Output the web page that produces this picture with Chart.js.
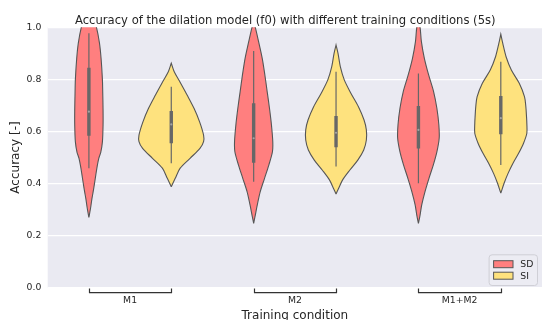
<!DOCTYPE html>
<html>
<head>
<meta charset="utf-8">
<script src="https://cdn.jsdelivr.net/npm/chart.js@4.4.1/dist/chart.umd.min.js"></script>
<style>
  html, body { margin: 0; padding: 0; background: #ffffff; overflow: hidden; }
  #wrap { width: 542px; height: 320px; overflow: hidden; }
</style>
</head>
<body>
<div id="wrap"><canvas id="chart" width="546" height="323"></canvas></div>
<script>
// Categories and series
const groups = ['M1', 'M2', 'M1+M2'];
const seriesNames = ['SD', 'SI'];

// Violin outlines: accuracy levels and relative density (1 = widest allowed)
const sdLevels = [
    [0.27, 0.305, 0.34, 0.369, 0.40, 0.433, 0.465, 0.497, 0.52, 0.56, 0.625, 0.68, 0.75, 0.80, 0.88, 0.94, 1.0, 1.04, 1.07],
    [0.247, 0.279, 0.318, 0.369, 0.42, 0.471, 0.522, 0.561, 0.625, 0.689, 0.753, 0.817, 0.881, 0.945, 1.0, 1.02],
    [0.247, 0.279, 0.318, 0.369, 0.42, 0.471, 0.522, 0.574, 0.625, 0.689, 0.753, 0.817, 0.881, 0.945, 1.0, 1.02]
];
const sdDensity = [
    [0, 0.05, 0.09, 0.13, 0.17, 0.21, 0.25, 0.30, 0.36, 0.41, 0.43, 0.43, 0.42, 0.41, 0.37, 0.32, 0.23, 0.12, 0],
    [0, 0.05, 0.11, 0.20, 0.33, 0.46, 0.57, 0.58, 0.54, 0.48, 0.41, 0.34, 0.26, 0.15, 0.05, 0],
    [0, 0.05, 0.10, 0.20, 0.32, 0.45, 0.56, 0.63, 0.62, 0.56, 0.46, 0.31, 0.18, 0.09, 0.05, 0]
];
const siLevels = [
    [0.388, 0.42, 0.459, 0.497, 0.535, 0.561, 0.586, 0.637, 0.689, 0.74, 0.791, 0.829, 0.862],
    [0.36, 0.382, 0.414, 0.452, 0.49, 0.529, 0.567, 0.606, 0.644, 0.695, 0.747, 0.798, 0.849, 0.9, 0.932],
    [0.363, 0.401, 0.439, 0.478, 0.516, 0.555, 0.593, 0.631, 0.657, 0.695, 0.733, 0.785, 0.836, 0.887, 0.938, 0.974]
];
const siDensity = [
    [0, 0.12, 0.27, 0.57, 0.87, 0.98, 0.98, 0.86, 0.69, 0.48, 0.26, 0.09, 0],
    [0, 0.08, 0.20, 0.42, 0.66, 0.84, 0.92, 0.92, 0.85, 0.68, 0.45, 0.25, 0.13, 0.06, 0],
    [0, 0.10, 0.22, 0.37, 0.54, 0.69, 0.79, 0.79, 0.78, 0.76, 0.72, 0.56, 0.32, 0.16, 0.06, 0]
];

// Inner boxes: [whisker low, q1, median, q3, whisker high]
const sdBoxStats = [
    [0.459, 0.584, 0.676, 0.845, 0.977],
    [0.407, 0.480, 0.574, 0.708, 0.909],
    [0.401, 0.535, 0.606, 0.698, 0.823]
];
const siBoxStats = [
    [0.478, 0.555, 0.627, 0.679, 0.772],
    [0.465, 0.539, 0.595, 0.659, 0.829],
    [0.471, 0.589, 0.651, 0.736, 0.868]
];

const yTicks = [0, 0.2, 0.4, 0.6, 0.8, 1.0];

const colors = ['#ff7f7f', '#fee27e'];
const outline = '#565656';
const innerColor = '#676767';
const dodge = 0.25;      // offset of each hue from group centre
const halfWidth = 0.2;   // max half width of a violin, in category units
const fontFamily = '"DejaVu Sans", sans-serif';
const textColor = '#262626';

function violinPoints(center, levels, density) {
    const right = levels.map((y, k) => ({ x: center + density[k] * halfWidth, y: y }));
    const left = levels.map((y, k) => ({ x: center - density[k] * halfWidth, y: y })).reverse();
    return right.concat(left);
}

const datasets = [];
const allLevels = [sdLevels, siLevels];
const allDensity = [sdDensity, siDensity];
const allStats = [sdBoxStats, siBoxStats];

seriesNames.forEach(function (name, s) {
    groups.forEach(function (g, i) {
        const center = i + (s === 0 ? -dodge : dodge);
        datasets.push({
            type: 'line',
            label: name,
            data: violinPoints(center, allLevels[s][i], allDensity[s][i]),
            backgroundColor: colors[s],
            borderColor: outline,
            borderWidth: 1.1,
            pointRadius: 0,
            tension: 0.3,
            fill: 'shape',
            order: 3
        });
        const st = allStats[s][i];
        // whisker
        datasets.push({
            type: 'line',
            label: name + ' whisker',
            data: [{ x: center, y: st[0] }, { x: center, y: st[4] }],
            borderColor: innerColor,
            borderWidth: 1.2,
            pointRadius: 0,
            fill: false,
            order: 2
        });
        // box
        datasets.push({
            type: 'line',
            label: name + ' box',
            data: [{ x: center, y: st[1] }, { x: center, y: st[3] }],
            borderColor: innerColor,
            borderWidth: 3.4,
            borderCapStyle: 'butt',
            pointRadius: 0,
            fill: false,
            order: 1
        });
        // median
        datasets.push({
            type: 'scatter',
            label: name + ' median',
            data: [{ x: center, y: st[2] }],
            backgroundColor: '#a4a4a4',
            borderWidth: 0,
            pointRadius: 1.1,
            order: 0
        });
    });
});

// Grey plot background
const backgroundPlugin = {
    id: 'plotBackground',
    beforeDraw(chart) {
        const { ctx, chartArea } = chart;
        ctx.save();
        ctx.fillStyle = '#eaeaf2';
        ctx.fillRect(chartArea.left, chartArea.top, chartArea.right - chartArea.left, chartArea.bottom - chartArea.top);
        ctx.restore();
    }
};

// Title, group brackets and legend
const decorPlugin = {
    id: 'decor',
    afterDraw(chart) {
        const { ctx, chartArea } = chart;
        const xs = chart.scales.x;
        ctx.save();

        // title
        ctx.fillStyle = textColor;
        ctx.font = '11.6px ' + fontFamily;
        ctx.textAlign = 'center';
        ctx.textBaseline = 'alphabetic';
        ctx.fillText('Accuracy of the dilation model (f0) with different training conditions (5s)', 285.3, 24);

        // brackets under each group
        ctx.strokeStyle = '#333333';
        ctx.lineWidth = 1.2;
        groups.forEach(function (g, i) {
            const x0 = Math.round(xs.getPixelForValue(i - dodge)) + 0.5;
            const x1 = Math.round(xs.getPixelForValue(i + dodge)) + 0.5;
            const yTop = chartArea.bottom + 0.8;
            const yBot = chartArea.bottom + 5;
            ctx.beginPath();
            ctx.moveTo(x0, yTop);
            ctx.lineTo(x0, yBot);
            ctx.lineTo(x1, yBot);
            ctx.lineTo(x1, yTop);
            ctx.stroke();
        });

        // legend
        const bw = 48.4, bh = 30.7;
        const bx = chartArea.right - 5 - bw;
        const by = chartArea.bottom - 2.7 - bh;
        ctx.beginPath();
        ctx.roundRect(bx + 0.5, by + 0.5, bw, bh, 3);
        ctx.fillStyle = 'rgba(236,236,243,0.9)';
        ctx.fill();
        ctx.strokeStyle = '#cfcfd6';
        ctx.lineWidth = 1;
        ctx.stroke();
        ctx.font = '9.3px ' + fontFamily;
        ctx.textAlign = 'left';
        ctx.textBaseline = 'middle';
        seriesNames.forEach(function (name, s) {
            const cy = by + 9.9 + s * 11.5;
            ctx.fillStyle = colors[s];
            ctx.fillRect(bx + 5, cy - 3.5, 19.4, 7);
            ctx.strokeStyle = outline;
            ctx.lineWidth = 1;
            ctx.strokeRect(bx + 5, cy - 3.5, 19.4, 7);
            ctx.fillStyle = textColor;
            ctx.fillText(name, bx + 31.7, cy + 0.5);
        });
        ctx.restore();
    }
};

new Chart(document.getElementById('chart'), {
    type: 'line',
    data: { datasets: datasets },
    options: {
        responsive: false,
        animation: false,
        events: [],
        layout: { padding: { top: 27.3, left: 0, right: 0, bottom: 0 } },
        plugins: {
            legend: { display: false },
            title: { display: false },
            tooltip: { enabled: false }
        },
        scales: {
            x: {
                type: 'linear',
                min: -0.5,
                max: 2.5,
                afterBuildTicks: function (scale) {
                    scale.ticks = groups.map((g, i) => ({ value: i }));
                },
                afterFit: function (scale) { scale.height = 35.3; },
                grid: { display: false, drawTicks: false },
                border: { display: false },
                ticks: {
                    autoSkip: false,
                    maxRotation: 0,
                    padding: 7,
                    color: textColor,
                    font: { family: fontFamily, size: 9.3 },
                    callback: function (v) { return groups[v]; }
                },
                title: {
                    display: true,
                    text: 'Training condition',
                    color: textColor,
                    font: { family: fontFamily, size: 12 },
                    padding: { top: 0, bottom: 0 }
                }
            },
            y: {
                min: 0,
                max: 1,
                afterBuildTicks: function (scale) {
                    scale.ticks = yTicks.map(v => ({ value: v }));
                },
                afterFit: function (scale) { scale.width = 47.7; },
                grid: { color: '#ffffff', lineWidth: 1.2, drawTicks: false },
                border: { display: false },
                ticks: {
                    padding: 6.4,
                    color: textColor,
                    font: { family: fontFamily, size: 9.3 },
                    callback: function (v) { return v.toFixed(1); }
                },
                title: {
                    display: true,
                    text: 'Accuracy [-]',
                    color: textColor,
                    font: { family: fontFamily, size: 12 },
                    padding: { top: 8.5, bottom: 0 }
                }
            }
        }
    },
    plugins: [backgroundPlugin, decorPlugin]
});
</script>
</body>
</html>
